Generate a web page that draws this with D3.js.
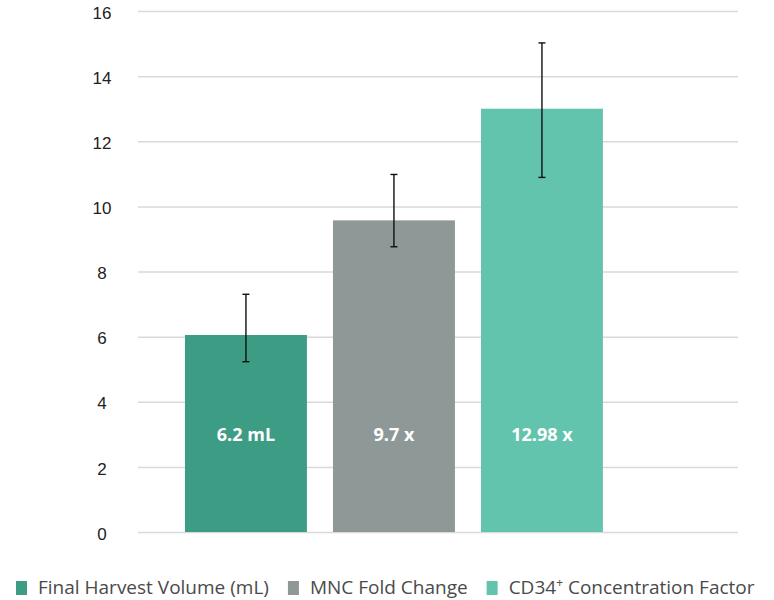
<!DOCTYPE html>
<html>
<head>
<meta charset="utf-8">
<script src="https://cdn.jsdelivr.net/npm/d3@7"></script>
<style>
	body { margin: 0; background: #fff; }
	svg { display: block; font-family: "Open Sans", sans-serif; }
</style>
</head>
<body>
<svg id="chart" width="774" height="600"></svg>
<script>
"use strict";

//
// Data
//
var categories = ["Final Harvest Volume (mL)", "MNC Fold Change", "CD34+ Concentration Factor"];
var legendNames = ["Final Harvest Volume (mL)", "MNC Fold Change", "CD34|+| Concentration Factor"];
var barValues = [6.05, 9.57, 13.0];
var errorLow = [5.23, 8.76, 10.89];
var errorHigh = [7.3, 10.98, 15.02];
var barLabels = ["6.2 mL", "9.7 x", "12.98 x"];
var barColors = ["#3d9c84", "#8e9896", "#63c4ad"];
var yTicks = [0, 2, 4, 6, 8, 10, 12, 14, 16];
var labelLevel = 2.8;

//
// Setup Variables
//
var margin = { top: 11, right: 36, bottom: 68, left: 138 };
var svg = d3.select("#chart");
var width = +svg.attr("width") - margin.left - margin.right;
var height = +svg.attr("height") - margin.top - margin.bottom;

var x = d3.scaleBand()
	.domain(categories)
	.range([0, width])
	.paddingInner(0.176)
	.paddingOuter(0.615)
	.align(0.258);

var y = d3.scaleLinear()
	.domain([0, 16])
	.range([height, 0]);

var g = svg.append("g")
	.attr("transform", "translate(" + margin.left + "," + margin.top + ")");

//
// Y-Axis with gridlines
//
var yAxis = d3.axisLeft(y)
	.tickValues(yTicks)
	.tickSizeInner(-width)
	.tickSizeOuter(0)
	.tickFormat(d3.format("d"));

var yAxisG = g.append("g")
	.attr("id", "y_axis")
	.call(yAxis);

yAxisG.select(".domain").remove();
yAxisG.selectAll(".tick line")
	.attr("stroke", "#d9d9d9")
	.attr("stroke-width", 1.5);
yAxisG.selectAll(".tick text")
	.attr("x", -36)
	.attr("dy", "0.42em")
	.attr("text-anchor", "middle")
	.attr("fill", "#222")
	.style("font-size", "17px");

//
// Bars
//
var data = categories.map(function(c, i) {
	return { label: c, value: barValues[i], lo: errorLow[i], hi: errorHigh[i], text: barLabels[i], color: barColors[i] };
});

g.append("g")
	.attr("id", "bars")
	.selectAll(".bar")
	.data(data)
	.enter()
	.append("rect")
	.attr("class", "bar")
	.attr("x", function(d) { return x(d.label); })
	.attr("width", x.bandwidth())
	.attr("y", function(d) { return y(d.value); })
	.attr("height", function(d) { return height - y(d.value); })
	.attr("fill", function(d) { return d.color; });

//
// Error bars
//
var capHalf = 3.5;
var err = g.append("g")
	.attr("id", "errors")
	.selectAll(".err")
	.data(data)
	.enter()
	.append("g")
	.attr("class", "err")
	.attr("stroke", "#111")
	.attr("stroke-width", 1.4);

err.append("line")
	.attr("x1", function(d) { return x(d.label) + x.bandwidth() / 2; })
	.attr("x2", function(d) { return x(d.label) + x.bandwidth() / 2; })
	.attr("y1", function(d) { return y(d.hi); })
	.attr("y2", function(d) { return y(d.lo); });

err.selectAll(".cap")
	.data(function(d) { return [d.hi, d.lo].map(function(v) { return { label: d.label, v: v }; }); })
	.enter()
	.append("line")
	.attr("class", "cap")
	.attr("x1", function(d) { return x(d.label) + x.bandwidth() / 2 - capHalf; })
	.attr("x2", function(d) { return x(d.label) + x.bandwidth() / 2 + capHalf; })
	.attr("y1", function(d) { return y(d.v); })
	.attr("y2", function(d) { return y(d.v); });

//
// Value labels
//
g.append("g")
	.attr("id", "values")
	.selectAll("text")
	.data(data)
	.enter()
	.append("text")
	.attr("x", function(d) { return x(d.label) + x.bandwidth() / 2; })
	.attr("y", y(labelLevel))
	.attr("text-anchor", "middle")
	.attr("fill", "#fff")
	.style("font-size", "18px")
	.style("font-weight", "bold")
	.text(function(d) { return d.text; });

//
// Legend
//
var legend = svg.append("g")
	.attr("id", "legend")
	.attr("transform", "translate(16,595)");

var cursor = 0;
legendNames.forEach(function(name, i) {
	var item = legend.append("g").attr("transform", "translate(" + cursor + ",0)");
	item.append("rect")
		.attr("x", 0)
		.attr("y", -14)
		.attr("width", 11)
		.attr("height", 14)
		.attr("fill", barColors[i]);
	var t = item.append("text")
		.attr("x", 22)
		.attr("y", -1)
		.attr("fill", "#4a4a4a")
		.style("font-size", "19px");
	name.split("|").forEach(function(part, k) {
		var ts = t.append("tspan").text(part);
		if (k === 1) ts.attr("dy", -7).style("font-size", "12px");
		if (k === 2) ts.attr("dy", 7);
	});
	cursor += 22 + t.node().getComputedTextLength() + 19;
});
</script>
</body>
</html>
